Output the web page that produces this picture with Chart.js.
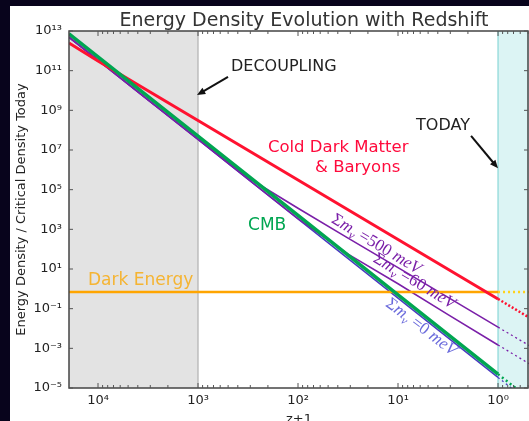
<!DOCTYPE html>
<html><head><meta charset="utf-8">
<script src="https://cdn.jsdelivr.net/npm/chart.js@4"></script>
<style>
html,body{margin:0;padding:0;background:#08041c;width:529px;height:421px;overflow:hidden}
#wrap{position:absolute;left:10px;top:6px;width:519px;height:421px;background:#fff}
</style></head><body><div id="wrap"><canvas id="c"></canvas></div>
<script>
// ---- data (z+1 on x, energy density / critical density today on y) ----
const zLine = [19500, 10000, 1000, 100, 10, 1];
const matter = [2.5e12, 3.1e11, 3.1e8, 3.1e5, 310, 0.31];
const cmb = [7.2e12, 5.0e11, 5.0e7, 5.0e3, 0.5, 5.0e-5];
const nu0 = [4.9e12, 3.4e11, 3.4e7, 3.4e3, 0.34, 3.4e-5];
const zNu = [19500, 3162, 1000, 316, 100, 31.6, 10, 3.16, 1];
const nu500 = [4.9e12, 3.4e9, 3.6e7, 4.0e5, 1.15e4, 360, 11.7, 0.37, 0.0117];
const nu60 = [4.9e12, 3.4e9, 3.4e7, 3.4e5, 3.5e3, 56, 1.8, 0.05, 0.00148];
const zDE = [19500, 1];
const darkEnergy = [0.69, 0.69];
const zFuture = [1, 0.49];
const matterFuture = [0.31, 0.036];
const cmbFuture = [5.0e-5, 2.9e-6];
const nu0Future = [3.4e-5, 2.0e-6];
const nu500Future = [0.0117, 0.0014];
const nu60Future = [0.00148, 0.00017];
const deFuture = [0.69, 0.69];
const xTickValues = [1e4, 1e3, 1e2, 1e1, 1e0];
const xTickLabels = ['10⁴', '10³', '10²', '10¹', '10⁰'];
const yTickValues = [1e-5, 1e-3, 1e-1, 1e1, 1e3, 1e5, 1e7, 1e9, 1e11, 1e13];
const yTickLabels = ['10⁻⁵', '10⁻³', '10⁻¹', '10¹', '10³', '10⁵', '10⁷', '10⁹', '10¹¹', '10¹³'];
const decouplingZ = 1000;
const todayZ = 1;

const FONT = 'DejaVu Sans';
const pts = (xs, ys) => xs.map((x, i) => ({x, y: ys[i]}));
const line = (label, xs, ys, color, width, dash) => ({
  label, data: pts(xs, ys), borderColor: color, borderWidth: width,
  borderDash: dash || [], pointRadius: 0, fill: false, tension: 0
});

const datasets = [
  line('CMB', zLine, cmb, '#00a651', 3.5),
  line('Cold Dark Matter & Baryons', zLine, matter, '#ff1230', 3),
  line('Dark Energy', zDE, darkEnergy, '#ffa500', 2.5),
  line('Σmν=500 meV', zNu, nu500, '#7a1fa8', 1.6),
  line('Σmν=60 meV', zNu, nu60, '#7a1fa8', 1.6),
  line('Σmν=0 meV', zLine, nu0, '#4a3cc0', 1.6),
  line('CMB future', zFuture, cmbFuture, '#00a651', 2.5, [2, 3]),
  line('Matter future', zFuture, matterFuture, '#ff1230', 2.5, [2, 2]),
  line('DE future', zFuture, deFuture, '#ffd21a', 2.5, [2, 3]),
  line('500 future', zFuture, nu500Future, '#7a1fa8', 1.3, [2, 3]),
  line('60 future', zFuture, nu60Future, '#7a1fa8', 1.3, [2, 3]),
  line('0 future', zFuture, nu0Future, '#4a3cc0', 1.3, [2, 3])
];

const annotations = {
  texts: [
    {text: 'DECOUPLING', z: 468, v: 9.6e10, color: '#222', size: 16},
    {text: 'TODAY', z: 6.6, v: 1.0e8, color: '#222', size: 16},
    {text: 'Cold Dark Matter', z: 200, v: 7.9e6, color: '#ff0a3c', size: 16.5},
    {text: '& Baryons', z: 67.6, v: 7.8e5, color: '#ff0a3c', size: 16.5},
    {text: 'CMB', z: 316, v: 920, color: '#00a651', size: 17},
    {text: 'Dark Energy', z: 12589, v: 1.55, color: '#f5b432', size: 17}
  ],
  arrows: [
    {z1: 501, v1: 4.8e10, z2: 1023, v2: 5.9e9},
    {z1: 1.86, v1: 5.1e7, z2: 1.0, v2: 1.2e6}
  ],
  math: [
    {val: '500', z: 16.2, v: 204, angle: 31, color: '#7a1fa8'},
    {val: '60', z: 6.76, v: 2.77, angle: 31, color: '#7a1fa8'},
    {val: '0', z: 5.75, v: 0.0133, angle: 37, color: '#6b6bdc'}
  ]
};

const decor = {
  id: 'decor',
  beforeDatasetsDraw(chart) {
    const {ctx, chartArea: a, scales: {x}} = chart;
    const xd = x.getPixelForValue(decouplingZ), xt = x.getPixelForValue(todayZ);
    ctx.save();
    ctx.fillStyle = '#e3e3e3';
    ctx.fillRect(a.left, a.top, xd - a.left, a.bottom - a.top);
    ctx.fillStyle = '#dcf4f4';
    ctx.fillRect(xt, a.top, a.right - xt, a.bottom - a.top);
    ctx.lineWidth = 1.2;
    ctx.strokeStyle = '#b0b0b0';
    ctx.beginPath(); ctx.moveTo(xd, a.top); ctx.lineTo(xd, a.bottom); ctx.stroke();
    ctx.strokeStyle = '#8ad8d8';
    ctx.beginPath(); ctx.moveTo(xt, a.top); ctx.lineTo(xt, a.bottom); ctx.stroke();
    ctx.restore();
  },
  afterDraw(chart) {
    const {ctx, chartArea: a, scales: {x, y}} = chart;
    ctx.save();
    // spines
    ctx.strokeStyle = '#444'; ctx.lineWidth = 1.5;
    ctx.strokeRect(a.left, a.top, a.right - a.left - 1, a.bottom - a.top);
    // ticks
    ctx.lineWidth = 1; ctx.strokeStyle = '#555';
    ctx.beginPath();
    yTickValues.forEach(v => {
      const py = y.getPixelForValue(v);
      ctx.moveTo(a.left, py); ctx.lineTo(a.left + 4, py);
      ctx.moveTo(a.right - 1, py); ctx.lineTo(a.right - 5, py);
    });
    for (let e = -1; e <= 4; e++) {
      for (let m = 1; m <= 9; m++) {
        const v = m * Math.pow(10, e);
        if (v < x.min || v > x.max) continue;
        const px = x.getPixelForValue(v);
        const len = m === 1 ? 5 : 3;
        ctx.moveTo(px, a.bottom); ctx.lineTo(px, a.bottom - len);
        ctx.moveTo(px, a.top); ctx.lineTo(px, a.top + len);
      }
    }
    ctx.stroke();
    // title
    ctx.fillStyle = '#333';
    ctx.font = '19px ' + FONT;
    ctx.textAlign = 'center'; ctx.textBaseline = 'alphabetic';
    ctx.fillText('Energy Density Evolution with Redshift', (a.left + a.right) / 2 + 5, 20);
    // texts
    ctx.textAlign = 'left';
    annotations.texts.forEach(t => {
      ctx.fillStyle = t.color;
      ctx.font = t.size + 'px ' + FONT;
      ctx.fillText(t.text, x.getPixelForValue(t.z), y.getPixelForValue(t.v));
    });
    // arrows
    ctx.strokeStyle = '#111'; ctx.fillStyle = '#111'; ctx.lineWidth = 2;
    annotations.arrows.forEach(r => {
      const x1 = x.getPixelForValue(r.z1), y1 = y.getPixelForValue(r.v1);
      const x2 = x.getPixelForValue(r.z2), y2 = y.getPixelForValue(r.v2);
      const ang = Math.atan2(y2 - y1, x2 - x1), h = 9;
      ctx.beginPath(); ctx.moveTo(x1, y1);
      ctx.lineTo(x2 - Math.cos(ang) * h * 0.8, y2 - Math.sin(ang) * h * 0.8); ctx.stroke();
      ctx.beginPath(); ctx.moveTo(x2, y2);
      ctx.lineTo(x2 - h * Math.cos(ang - 0.4), y2 - h * Math.sin(ang - 0.4));
      ctx.lineTo(x2 - h * Math.cos(ang + 0.4), y2 - h * Math.sin(ang + 0.4));
      ctx.closePath(); ctx.fill();
    });
    // math labels
    const SER = 'Liberation Serif';
    annotations.math.forEach(m => {
      const parts = [
        {t: 'Σ', f: '17px ' + SER, dy: 0},
        {t: 'm', f: 'italic 17px ' + SER, dy: 0},
        {t: 'ν', f: 'italic 12px ' + SER, dy: 4},
        {t: ' =' + m.val + ' ', f: '17px ' + SER, dy: 0},
        {t: 'meV', f: 'italic 17px ' + SER, dy: 0}
      ];
      let w = 0;
      parts.forEach(p => { ctx.font = p.f; p.w = ctx.measureText(p.t).width; w += p.w; });
      ctx.save();
      ctx.translate(x.getPixelForValue(m.z), y.getPixelForValue(m.v));
      ctx.rotate(m.angle * Math.PI / 180);
      ctx.fillStyle = m.color;
      let cx = -w / 2;
      parts.forEach(p => { ctx.font = p.f; ctx.fillText(p.t, cx, 6 + p.dy); cx += p.w; });
      ctx.restore();
    });
    ctx.restore();
  }
};

new Chart(document.getElementById('c'), {
  type: 'line',
  data: {datasets},
  options: {
    responsive: true, maintainAspectRatio: false, animation: false,
    layout: {padding: {top: 25, right: 0, left: 0, bottom: 0}},
    plugins: {legend: {display: false}, tooltip: {enabled: false}, title: {display: false}},
    scales: {
      x: {
        type: 'logarithmic', reverse: true, min: 0.49, max: 19500, position: 'bottom',
        afterBuildTicks: s => { s.ticks = xTickValues.map(v => ({value: v})); },
        afterFit: s => { s.height = 39; },
        ticks: {callback: (v, i) => xTickLabels[i], font: {family: FONT, size: 13}, color: '#222', padding: 5, maxRotation: 0, autoSkip: false},
        grid: {display: false, drawTicks: false}, border: {display: false},
        title: {display: true, text: 'z+1', font: {family: FONT, size: 13}, color: '#222', padding: 0}
      },
      y: {
        type: 'logarithmic', min: 1e-5, max: 1e13,
        afterBuildTicks: s => { s.ticks = yTickValues.map(v => ({value: v})); },
        afterFit: s => { s.width = 59; },
        ticks: {callback: (v, i) => yTickLabels[i], font: {family: FONT, size: 13}, color: '#222', padding: 7, autoSkip: false},
        grid: {display: false, drawTicks: false}, border: {display: false},
        title: {display: true, text: 'Energy Density / Critical Density Today', font: {family: FONT, size: 13}, color: '#222', padding: {top: 4, bottom: 0}}
      }
    }
  },
  plugins: [decor]
});
</script></body></html>
